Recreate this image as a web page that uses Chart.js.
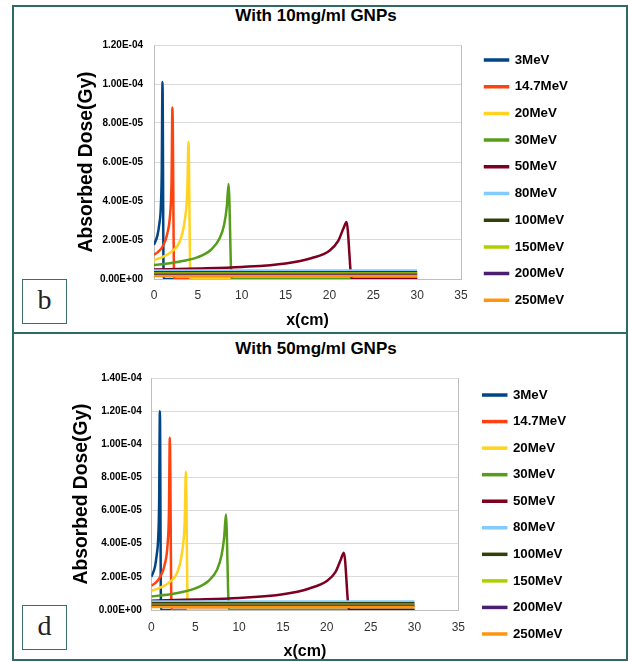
<!DOCTYPE html>
<html lang="en">
<head>
<meta charset="UTF-8">
<title>Absorbed dose with GNPs</title>
<script src="https://cdn.jsdelivr.net/npm/chart.js@4.4.1/dist/chart.umd.min.js"></script>
<style>
  body { margin: 0; background: #fff; width: 629px; height: 662px; position: relative; overflow: hidden; }
  #frame { position: absolute; left: 12px; top: 5px; width: 616px; height: 656px; box-sizing: border-box; border: 2px solid #2f6a68; }
  #divider { position: absolute; left: 12px; top: 332px; width: 616px; height: 2px; background: #2f6a68; }
  .tag { position: absolute; left: 22px; width: 45px; height: 45px; box-sizing: border-box; border: 1px solid #3a6e6a;
         font-family: 'Liberation Serif', 'DejaVu Serif', serif; font-size: 28px; color: #222; text-align: center; line-height: 40px; background: #fff; }
  .title { position: absolute; left: 0; width: 632px; text-align: center; line-height: 20px;
           font-family: 'Liberation Sans', Arial, sans-serif; font-weight: bold; font-size: 17px; color: #000; }
  canvas { position: absolute; left: 14px; }
</style>
</head>
<body>
<div id="frame"></div>
<div id="divider"></div>
<div class="title" style="top:6px">With 10mg/ml GNPs</div>
<div class="title" style="top:339px">With 50mg/ml GNPs</div>
<canvas id="chart10" width="612" height="325" style="top:7px"></canvas>
<canvas id="chart50" width="612" height="327" style="top:334px"></canvas>
<div class="tag" style="top:279px">b</div>
<div class="tag" style="top:605px">d</div>

<script>
const energies = ['3MeV', '14.7MeV', '20MeV', '30MeV', '50MeV', '80MeV', '100MeV', '150MeV', '200MeV', '250MeV'];
const seriesColors = ['#004586', '#ff420e', '#ffd320', '#579d1c', '#7e0021', '#83caff', '#314004', '#aecf00', '#4b1f6f', '#ff950e'];

// depth (cm) of the sample points on each curve
const depth3 = [0, 0.4, 0.6, 0.77, 0.88, 0.97, 1.1, 30];
const depth14 = [0, 0.5, 1.0, 1.5, 1.85, 2.0, 2.1, 2.3, 30];
const depth20 = [0, 1, 2, 3, 3.5, 3.8, 3.93, 4.15, 30];
const depth30 = [0, 2.5, 5, 6.5, 7.5, 8.0, 8.3, 8.5, 8.85, 30];
const depth50 = [0, 5, 10, 15, 18, 20, 21, 21.6, 21.95, 22.55, 30];
const depthFlat = [0, 30];

// absorbed dose (Gy), 10 mg/ml GNPs
const dose3_10 = [1.75e-5, 2.25e-5, 2.8e-5, 3.6e-5, 5.4e-5, 1.01e-4, 0, 0];
const dose14_10 = [1.25e-5, 1.4e-5, 1.68e-5, 2.3e-5, 3.4e-5, 5.0e-5, 8.8e-5, 0, 0];
const dose20_10 = [9.6e-6, 1.14e-5, 1.4e-5, 2.0e-5, 3.0e-5, 4.6e-5, 7.04e-5, 0, 0];
const dose30_10 = [7.2e-6, 8.6e-6, 1.12e-5, 1.5e-5, 2.1e-5, 2.8e-5, 3.7e-5, 4.87e-5, 0, 0];
const dose50_10 = [4.9e-6, 5.4e-6, 6.2e-6, 8.0e-6, 1.08e-5, 1.45e-5, 1.95e-5, 2.6e-5, 2.92e-5, 0, 0];
const dose80_10 = [4.4e-6, 4.4e-6];
const dose100_10 = [3.4e-6, 3.4e-6];
const dose150_10 = [2.8e-6, 2.8e-6];
const dose200_10 = [2.2e-6, 2.2e-6];
const dose250_10 = [1.6e-6, 1.6e-6];

// absorbed dose (Gy), 50 mg/ml GNPs
const dose3_50 = [2.0e-5, 2.6e-5, 3.3e-5, 4.3e-5, 6.4e-5, 1.2e-4, 0, 0];
const dose14_50 = [1.47e-5, 1.65e-5, 2.0e-5, 2.7e-5, 4.0e-5, 5.9e-5, 1.04e-4, 0, 0];
const dose20_50 = [1.15e-5, 1.35e-5, 1.65e-5, 2.35e-5, 3.5e-5, 5.4e-5, 8.35e-5, 0, 0];
const dose30_50 = [8.2e-6, 9.8e-6, 1.3e-5, 1.75e-5, 2.45e-5, 3.3e-5, 4.4e-5, 5.77e-5, 0, 0];
const dose50_50 = [5.6e-6, 6.3e-6, 7.3e-6, 9.5e-6, 1.3e-5, 1.75e-5, 2.3e-5, 3.05e-5, 3.46e-5, 0, 0];
const dose80_50 = [5.2e-6, 5.2e-6];
const dose100_50 = [4.0e-6, 4.0e-6];
const dose150_50 = [3.2e-6, 3.2e-6];
const dose200_50 = [2.5e-6, 2.5e-6];
const dose250_50 = [1.8e-6, 1.8e-6];

const yTicks10 = ['0.00E+00', '2.00E-05', '4.00E-05', '6.00E-05', '8.00E-05', '1.00E-04', '1.20E-04'];
const yTicks50 = ['0.00E+00', '2.00E-05', '4.00E-05', '6.00E-05', '8.00E-05', '1.00E-04', '1.20E-04', '1.40E-04'];

const depths = [depth3, depth14, depth20, depth30, depth50, depthFlat, depthFlat, depthFlat, depthFlat, depthFlat];
const doses10 = [dose3_10, dose14_10, dose20_10, dose30_10, dose50_10, dose80_10, dose100_10, dose150_10, dose200_10, dose250_10];
const doses50 = [dose3_50, dose14_50, dose20_50, dose30_50, dose50_50, dose80_50, dose100_50, dose150_50, dose200_50, dose250_50];

const SANS = "'Liberation Sans', Arial, sans-serif";

function buildDatasets(doses)
{
    return energies.map((name, i) => ({
        label: name,
        data: depths[i].map((x, k) => ({ x: x, y: doses[i][k] })),
        borderColor: seriesColors[i],
        backgroundColor: seriesColors[i],
        borderWidth: 2.5,
        pointRadius: 0,
        cubicInterpolationMode: 'monotone',
        order: energies.length - i // later series drawn on top, like the original
    }));
}

// hidden axes that only reserve room (top margin, gap before the legend)
function spacer(position, size)
{
    return {
        type: 'linear',
        position: position,
        display: false,
        afterFit: s => { if (position === 'top') s.height = size; else s.width = size; }
    };
}

function makeChart(id, doses, yTicks, yMax, g)
{
    new Chart(document.getElementById(id), {
        type: 'line',
        data: { datasets: buildDatasets(doses) },
        options: {
            responsive: false,
            animation: false,
            layout: { padding: { left: 0, top: 0, right: g.padRight, bottom: 0 } },
            plugins: {
                tooltip: { enabled: false },
                legend: {
                    position: 'right',
                    title: { display: true, text: ' ', font: { size: 10 }, padding: { top: g.legendTop - 12, bottom: 0 } },
                    labels: {
                        boxWidth: 23,
                        boxHeight: 1,
                        padding: g.legendPad,
                        color: '#000',
                        font: { family: SANS, size: 13.3, weight: 'bold' },
                        sort: (a, b) => a.datasetIndex - b.datasetIndex
                    }
                }
            },
            scales: {
                x: {
                    type: 'linear',
                    min: 0,
                    max: 35,
                    ticks: { stepSize: 5, padding: g.xTickPad, color: '#333', font: { family: SANS, size: 12 } },
                    // only the line at 35 is kept: it closes the plot area on the right
                    grid: { drawTicks: false, color: c => (c.tick && c.tick.value === 35 ? '#bfbfbf' : 'rgba(0,0,0,0)') },
                    border: { color: '#bfbfbf' },
                    title: { display: true, text: 'x(cm)', color: '#000', font: { family: SANS, size: 16, weight: 'bold' },
                             padding: { top: 0, bottom: g.xTitlePad } },
                    afterFit: s => { s.height = g.xHeight; }
                },
                y: {
                    min: 0,
                    max: yMax,
                    ticks: { stepSize: 2e-5, padding: g.yTickPad, color: '#000', font: { family: SANS, size: 10, weight: 'bold' },
                             callback: (v, i) => yTicks[i] },
                    grid: { color: '#d9d9d9', drawTicks: false },
                    border: { color: '#bfbfbf' },
                    title: { display: true, text: 'Absorbed Dose(Gy)', color: '#000', font: { family: SANS, size: 19.3, weight: 'bold' },
                             padding: { top: g.yTitlePad, bottom: 0 } },
                    afterFit: s => { s.width = g.yWidth; }
                },
                topGap: spacer('top', g.topGap),
                rightGap: spacer('right', g.rightGap)
            }
        }
    });
}

makeChart('chart10', doses10, yTicks10, 1.2e-4, {
    topGap: 38, rightGap: 10.6, padRight: 48.1, legendTop: 21.3, legendPad: 13.4,
    xTickPad: 9.5, xHeight: 53, xTitlePad: 1.4,
    yTickPad: 11, yTitlePad: 60.7, yWidth: 140
});

makeChart('chart50', doses50, yTicks50, 1.4e-4, {
    topGap: 44, rightGap: 11.65, padRight: 49.9, legendTop: 34, legendPad: 13.25,
    xTickPad: 10.5, xHeight: 51, xTitlePad: -0.3,
    yTickPad: 9.6, yTitlePad: 56.4, yWidth: 137.4
});
</script>
</body>
</html>
